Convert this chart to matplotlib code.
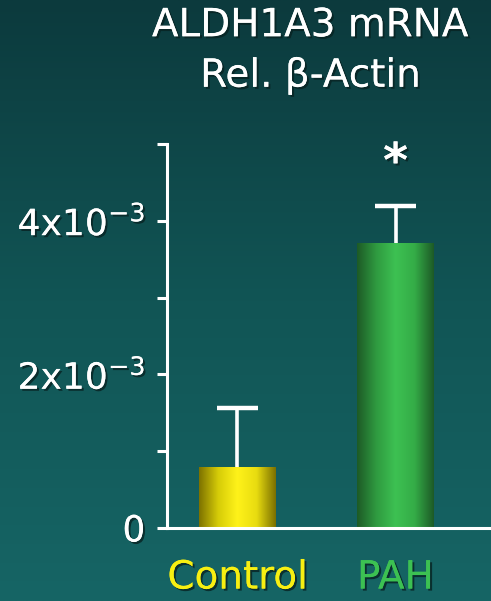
import matplotlib
import numpy as np

matplotlib.use("Agg", force=True)
import matplotlib.pyplot as plt
import matplotlib.patheffects as pe
from matplotlib.colors import LinearSegmentedColormap

groups = ["Control", "PAH"]
means = [0.79e-3, 3.71e-3]
sem_up = [0.77e-3, 0.48e-3]
label_colors = ["#f7ef12", "#3cc152"]
bar_maps = [
    ["#7d7200", "#d6cc08", "#fff21a", "#e8dc10", "#7a6f00"],
    ["#1d5a26", "#2f9a40", "#3dc152", "#34ac47", "#1d5a26"],
]
yticks = [0, 1e-3, 2e-3, 3e-3, 4e-3, 5e-3]
ytick_labels = ["0", "", "2x10$^{-3}$", "", "4x10$^{-3}$", ""]

shadow = [pe.withSimplePatchShadow(offset=(1.5, -1.5), shadow_rgbFace="#082222", alpha=0.8), pe.Normal()]

fig = plt.figure(figsize=(4.91, 6.01), dpi=100)

# vertical background gradient
bg = fig.add_axes([0, 0, 1, 1], zorder=-10)
bg_cmap = LinearSegmentedColormap.from_list("bg", ["#0c3a3d", "#115555", "#166565"])
bg.imshow(np.linspace(0, 1, 256).reshape(-1, 1), cmap=bg_cmap, aspect="auto", extent=[0, 1, 0, 1])
bg.set_axis_off()

ax = fig.add_axes([0.340, 0.1215, 0.660, 0.6389])
ax.set_facecolor("none")
x = np.arange(len(groups))
bars = ax.bar(x, means, width=0.487, color="none", edgecolor="none", zorder=2)
for bar, cols in zip(bars, bar_maps):
    cmap = LinearSegmentedColormap.from_list("b", cols)
    x0, y0 = bar.get_x(), bar.get_y()
    im = ax.imshow(np.linspace(0, 1, 256).reshape(1, -1), cmap=cmap, aspect="auto",
                   extent=[x0, x0 + bar.get_width(), y0, y0 + bar.get_height()], zorder=2)
    im.set_clip_path(bar)

# upper error bars only
tops = np.array(means) + np.array(sem_up)
ax.vlines(x, means, tops, colors="white", linewidth=2.6, zorder=1)
ax.hlines(tops, x - 0.127, x + 0.127, colors="white", linewidth=3.2, zorder=1)
ax.text(1, 4.74e-3, "*", ha="center", va="center", color="white", fontsize=34,
        fontweight="bold", path_effects=shadow)

ax.set_xlim(-0.446, 1.604)
ax.set_ylim(0, 5e-3)
ax.set_yticks(yticks, ytick_labels)
ax.set_xticks(x, groups)
for spine in ["top", "right"]:
    ax.spines[spine].set_visible(False)
for spine in ["left", "bottom"]:
    ax.spines[spine].set_color("white")
    ax.spines[spine].set_linewidth(2.2)
ax.tick_params(axis="y", colors="white", length=7.5, width=2.2, pad=8, labelsize=26)
ax.tick_params(axis="x", length=0, pad=22, labelsize=28)
for lbl in ax.get_yticklabels():
    lbl.set_path_effects(shadow)
for lbl, c in zip(ax.get_xticklabels(), label_colors):
    lbl.set_color(c)
    lbl.set_path_effects(shadow)

fig.text(0.632, 0.958, "ALDH1A3 mRNA", ha="center", va="center", color="white",
         fontsize=28, path_effects=shadow)
fig.text(0.632, 0.874, "Rel. \u03b2-Actin", ha="center", va="center", color="white",
         fontsize=28, path_effects=shadow)

fig.savefig("out.png", dpi=100)
plt.close(fig)
